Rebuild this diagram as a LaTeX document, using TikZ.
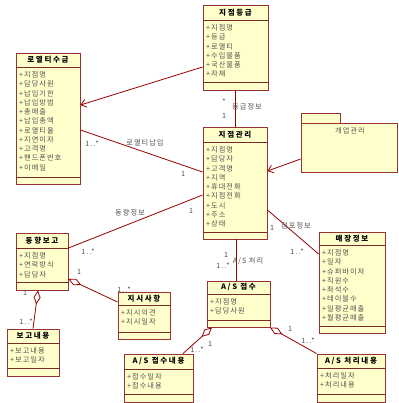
\documentclass[tikz,border=0pt]{standalone}
\usepackage{fontspec}
\setmainfont{Noto Sans CJK KR}[LetterSpace=14]
\usetikzlibrary{arrows.meta,fit}

\definecolor{boxfill}{HTML}{FFFFCC}
\definecolor{boxline}{HTML}{993333}
\definecolor{wire}{HTML}{990000}
\definecolor{attrtext}{HTML}{505050}

\tikzset{
  clsbox/.style={draw=boxline, fill=boxfill, line width=0.9pt, inner sep=0pt},
  clsline/.style={draw=boxline!80!black, line width=0.9pt},
  clstitle/.style={font=\fontsize{7.5}{9}\selectfont\bfseries\addfontfeature{LetterSpace=22}, inner sep=0pt},
  clsattr/.style={font=\fontsize{7.2}{9.25}\selectfont, text=attrtext, align=left, inner sep=0pt},
  assoc/.style={draw=wire, line width=0.8pt},
  navig/.style={assoc, -{Straight Barb[length=5pt,width=8pt]}},
  aggr/.style={assoc, {Diamond[length=14pt,width=7pt,fill=white]}-},
  lbl/.style={font=\fontsize{7.2}{8}\selectfont, text=attrtext, inner sep=0pt},
}

% UML class: name, left, top, right, title rule, lower rule, bottom, title, attributes
\newcommand\umlclass[9]{%
  \node[clsbox, fit={(#2,#3) (#4,#7)}] (#1) {};
  \draw[clsline] (#2,#5) -- (#4,#5) (#2,#6) -- (#4,#6);
  \node[clstitle] (#1-title) at ({(#2+#4)/2},{(#3+#5)/2}) {#8};
  \node[clsattr, anchor=north west] (#1-attrs) at (#2+3,#5+4.5) {#9};
}

\begin{document}
\begin{tikzpicture}[x=1pt,y=-1pt]
\useasboundingbox[fill=white] (0,0) rectangle (398,403);

\umlclass{jg}{203}{5}{268}{20}{82}{90}{지점등급}{+지점명\\+등급\\+로열티\\+수입물품\\+국산물품\\+자재}
\umlclass{rs}{16}{53}{80}{67}{177}{184}{로열티수금}{+지점명\\+담당사원\\+납입기한\\+납입방법\\+총매출\\+납입총액\\+로열티율\\+지연이자\\+고객명\\+핸드폰번호\\+이메일}
\umlclass{gm}{203}{127}{267}{142}{232}{239}{지점관리}{+지점명\\+담당자\\+고객명\\+지역\\+휴대전화\\+지점전화\\+도시\\+주소\\+상태}
\umlclass{dh}{16}{233}{68}{248}{282}{290}{동향보고}{+지점명\\+연락방식\\+담당자}
\umlclass{bn}{7}{329}{59}{343}{368}{376}{보고내용}{+보고내용\\+보고일자}
\umlclass{js}{118}{292}{170}{305}{332}{339}{지시사항}{+지시의견\\+지시일자}
\umlclass{as}{207}{281}{270}{294}{320}{327}{A/S 접수}{+지점명\\+담당사원}
\umlclass{an}{124}{354}{193}{369}{394}{402}{A/S 접수내용}{+접수일자\\+접수내용}
\umlclass{ac}{317}{354}{385}{368}{394}{402}{A/S 처리내용}{+처리일자\\+처리내용}
\umlclass{mj}{319}{232}{385}{245}{326}{333}{매장정보}{+지점명\\+일자\\+슈퍼바이저\\+직원수\\+좌석수\\+테이블수\\+일평균매출\\+월평균매출}

% package 개업관리
\node[clsbox, fit={(301,113) (340,123)}] (gytab) {};
\node[clsbox, fit={(301,123) (397,172)}] (gy) {};
\node[lbl] (gyname) at (350,131) {개업관리};

% associations
\draw[navig] (jg.west |- 0,67) -- (rs.east |- 0,105);
\draw[assoc] (rs.east |- 0,130) -- (gm.west |- 0,172);
\draw[assoc] (dh.east |- 0,248) -- (gm.west |- 0,195);
\draw[navig] (gy.west |- 0,159) -- (gm.east |- 0,171);
\draw[assoc] (jg.south) -- (jg.south |- gm.north);
\draw[assoc] (gm.east |- 0,210) -- (mj.west |- 0,254);
\draw[assoc] (gm.south -| 236,0) -- (as.north -| 236,0);

% aggregations
\draw[aggr] (dh.south -| 38,0) -- (bn.north -| 33,0);
\draw[aggr] (dh.east |- 0,279) -- (js.west |- 0,302);
\draw[aggr] (as.south -| 212,0) -- (an.north -| 183,0);
\draw[aggr] (as.south -| 270,0) -- (ac.north west);

% role names and multiplicities
\node[lbl] (m1) at (224,102) {*};
\node[lbl] (r1) at (247,107) {등급정보};
\node[lbl] (m2) at (224,116) {1};
\node[lbl] (m3) at (92,144) {1..*};
\node[lbl] (r2) at (145,143) {로열티납입};
\node[lbl] (m4) at (183,174) {1};
\node[lbl] (r3) at (130,213) {동향정보};
\node[lbl] (m5) at (88,252) {1..*};
\node[lbl] (m6) at (191,211) {1};
\node[lbl] (r4) at (296,226) {점포정보};
\node[lbl] (m7) at (272,228) {1};
\node[lbl] (m8) at (297,252) {1..*};
\node[lbl] (m9) at (226,255) {1};
\node[lbl] (r5) at (248,261) {A/S 처리};
\node[lbl] (m10) at (223,266) {1..*};
\node[lbl] (m11) at (25,293) {1};
\node[lbl] (m12) at (26,322) {1..*};
\node[lbl] (m13) at (79,272) {1};
\node[lbl] (m14) at (124,290) {1..*};
\node[lbl] (m15) at (210,344) {1};
\node[lbl] (m16) at (197,350) {1..*};
\node[lbl] (m17) at (290,329) {1};
\node[lbl] (m18) at (308,341) {1..*};
\end{tikzpicture}
\end{document}
